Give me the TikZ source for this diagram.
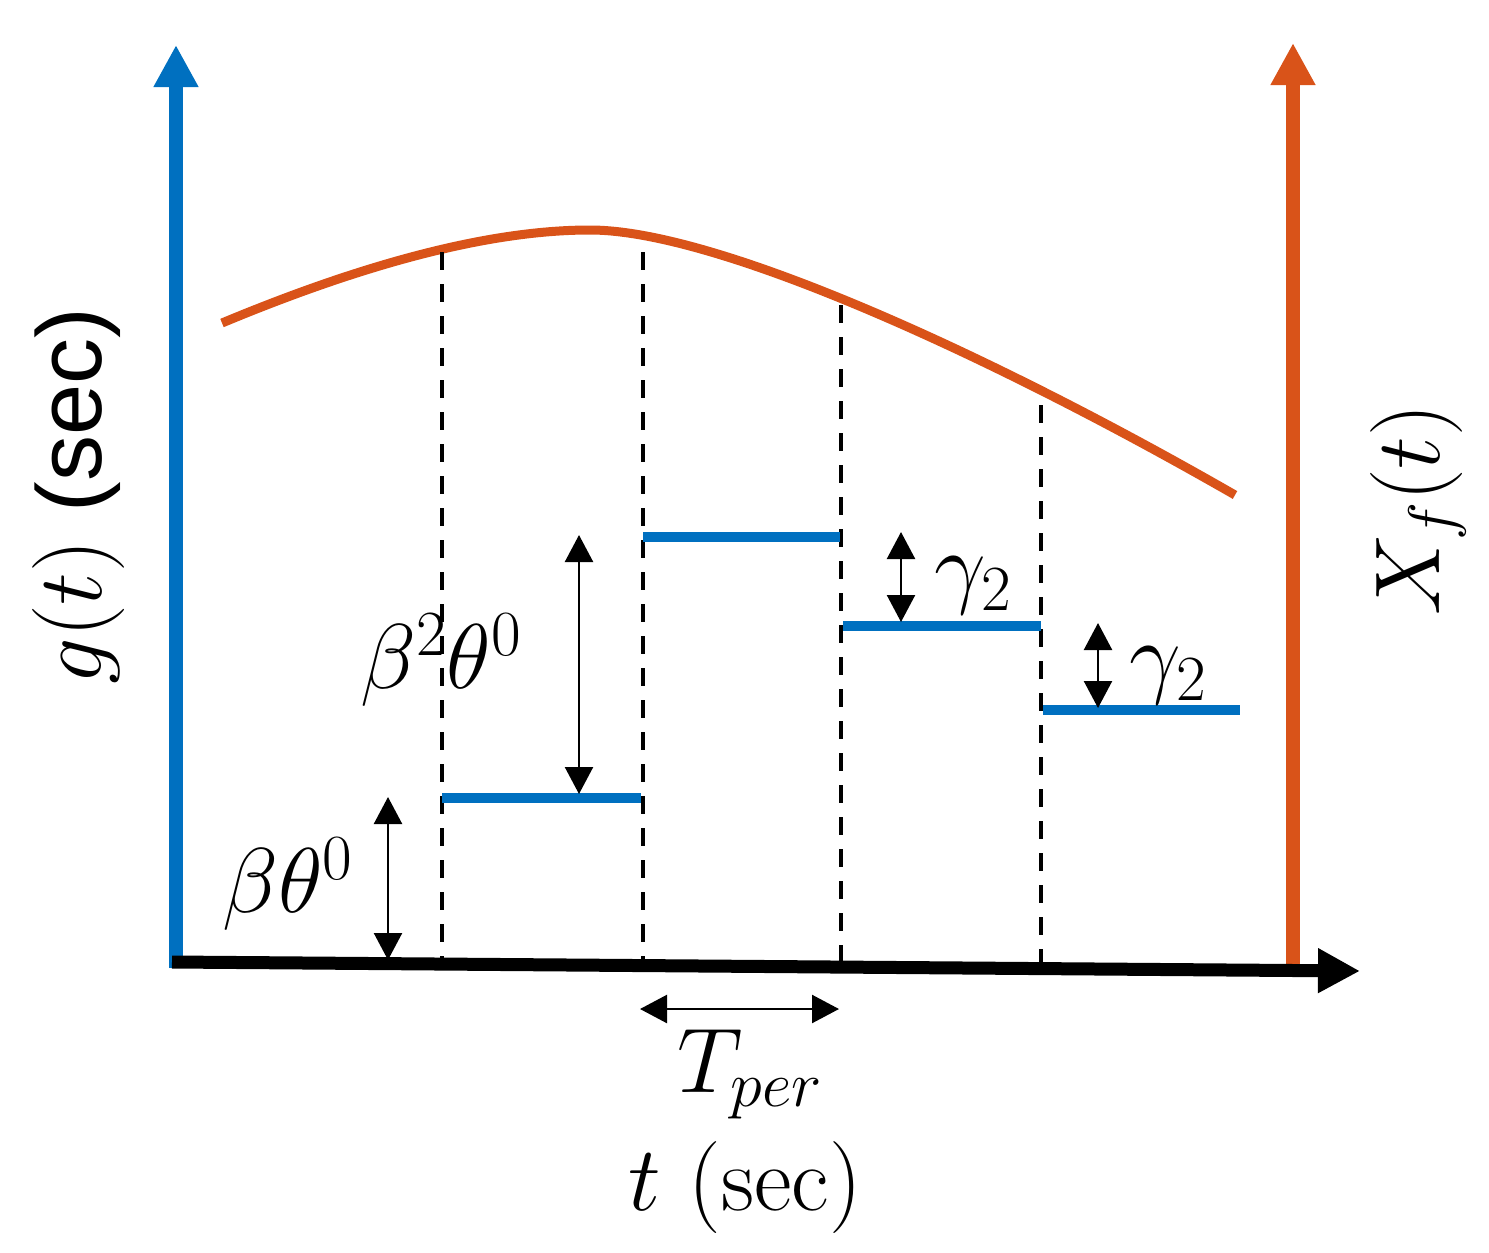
\RequirePackage{fix-cm}
\documentclass[tikz,border=0pt]{standalone}
\usepackage{fontspec}
\newfontfamily\arialfont{Liberation Sans}
\usetikzlibrary{arrows.meta}
\definecolor{axblue}{HTML}{0070C0}
\definecolor{axorange}{HTML}{D95319}
\begin{document}
\begin{tikzpicture}[x=0.5pt,y=-0.5pt,
  bigtip/.style={-{Triangle[width=21pt,length=21pt]}},
  blueaxis/.style={bigtip, draw=axblue, fill=axblue, line width=7pt},
  orangeaxis/.style={bigtip, draw=axorange, fill=axorange, line width=7pt},
  timeaxis/.style={bigtip, draw=black, line width=6.5pt},
  dashline/.style={draw=black, line width=2.4pt, dash pattern=on 9pt off 7pt},
  stepline/.style={draw=axblue, line width=5pt},
  curveline/.style={draw=axorange, line width=4.5pt},
  dimarrow/.style={{Triangle[width=14pt,length=13.5pt]}-{Triangle[width=14pt,length=13.5pt]}, line width=1.2pt},
  lbl/.style={font=\fontsize{46}{54}\selectfont, inner sep=0pt}
]
\useasboundingbox (0,0) rectangle (1489,1253);

% axes
\coordinate (oBot) at (1293,966);
\coordinate (oTop) at (1293,43);
\coordinate (bBot) at (176,968);
\coordinate (bTop) at (176,45);
\coordinate (xStart) at (172,962);
\coordinate (xEnd) at (1360,971);
\draw[orangeaxis] (oBot) -- (oTop);
\draw[blueaxis] (bBot) -- (bTop);

% orange curve
\coordinate (c0) at (222,323);
\coordinate (cPeak) at (590,230);
\coordinate (cEnd) at (1235,495);
\draw[curveline] (c0) .. controls (330,278) and (470,230) .. (cPeak)
  .. controls (720,230) and (1000,360) .. (cEnd);

% dashed separators
\coordinate (d1t) at (442,252); \coordinate (d1b) at (442,962);
\coordinate (d2t) at (643,252); \coordinate (d2b) at (643,962);
\coordinate (d3t) at (841,305); \coordinate (d3b) at (841,962);
\coordinate (d4t) at (1041,405); \coordinate (d4b) at (1041,962);
\draw[dashline] (d1t) -- (d1b);
\draw[dashline] (d2t) -- (d2b);
\draw[dashline] (d3t) -- (d3b);
\draw[dashline] (d4t) -- (d4b);

% time axis
\draw[timeaxis] (xStart) -- (xEnd);

% steps
\coordinate (s1a) at (442,798); \coordinate (s1b) at (641,798);
\coordinate (s2a) at (643,537); \coordinate (s2b) at (840,537);
\coordinate (s3a) at (843,626); \coordinate (s3b) at (1041,626);
\coordinate (s4a) at (1043,710); \coordinate (s4b) at (1240,710);
\draw[stepline] (s1a) -- (s1b);
\draw[stepline] (s2a) -- (s2b);
\draw[stepline] (s3a) -- (s3b);
\draw[stepline] (s4a) -- (s4b);

% dimension arrows
\coordinate (a1t) at (388,797); \coordinate (a1b) at (388,960);
\coordinate (a2t) at (579,535); \coordinate (a2b) at (579,794);
\coordinate (a3t) at (901,532); \coordinate (a3b) at (901,622);
\coordinate (a4t) at (1098,623); \coordinate (a4b) at (1098,708);
\coordinate (tl) at (640,1009); \coordinate (tr) at (839,1009);
\draw[dimarrow] (a1t) -- (a1b);
\draw[dimarrow] (a2t) -- (a2b);
\draw[dimarrow] (a3t) -- (a3b);
\draw[dimarrow] (a4t) -- (a4b);
\draw[dimarrow] (tl) -- (tr);

% labels
\node[lbl] (lb1) at (288,884) {$\beta\theta^0$};
\node[lbl] (lb2) at (441,660) {$\beta^2\theta^0$};
\node[lbl] (lg1) at (973,586) {$\gamma_2$};
\node[lbl] (lg2) at (1168,676) {$\gamma_2$};
\node[lbl] (lT) at (750,1074) {$T_{per}$};
\node[lbl] (lt) at (745,1188) {$t$ (sec)};
\node[lbl, rotate=90] (lg) at (79,496) {$g(t)$ {\arialfont (sec)}};
\node[lbl, rotate=90] (lX) at (1418,510) {$X_f(t)$};
\end{tikzpicture}
\end{document}
